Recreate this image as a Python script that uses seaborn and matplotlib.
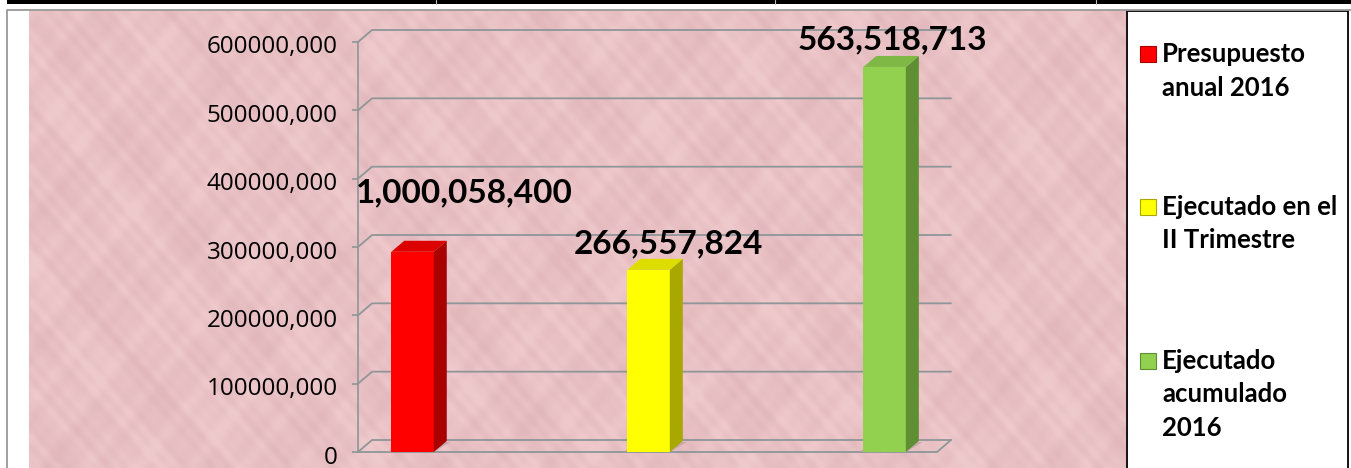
import numpy as np
import pandas as pd
import matplotlib
matplotlib.use('Agg')
import matplotlib.pyplot as plt
from matplotlib.patches import Polygon, Rectangle
from matplotlib.transforms import ScaledTranslation
import seaborn as sns

# datos
categorias = ['Presupuesto anual 2016', 'Ejecutado en el II Trimestre', 'Ejecutado acumulado 2016']
valores = [293000000, 266557824, 563518713]
etiquetas = ['1,000,058,400', '266,557,824', '563,518,713']
ticks_y = [0, 100000000, 200000000, 300000000, 400000000, 500000000, 600000000]
ticks_txt = ['0', '100000,000', '200000,000', '300000,000', '400000,000', '500000,000', '600000,000']
leyenda = [['Presupuesto', 'anual 2016'], ['Ejecutado en el', 'II Trimestre'], ['Ejecutado', 'acumulado', '2016']]

colores = ['#FF0000', '#FFFF00', '#92D050']
laterales = ['#A90000', '#A8A800', '#5F8F32']
techos = ['#DD0000', '#DDDD00', '#7FB845']

W, H = 1351, 468
sns.set_theme(style='white')
plt.rcParams['font.family'] = ['Open Sans', 'DejaVu Sans']

fig = plt.figure(figsize=(W / 100, H / 100), dpi=100, facecolor='white')

# fondo y marcos en pixeles
fondo = fig.add_axes([0, 0, 1, 1])
fondo.set_xlim(0, W)
fondo.set_ylim(H, 0)
fondo.axis('off')
xx, yy = np.meshgrid(np.arange(29, 1126, 2), np.arange(10, 468, 2))
# textura moteada del papel, solo decorativa
textura = sum(np.sin(xx * a + yy * b + c) for a, b, c in [
    (0.031, 0.047, 0.3), (-0.053, 0.029, 1.7), (0.087, -0.061, 2.9), (0.113, 0.097, 4.1),
    (-0.171, 0.143, 0.9), (0.239, 0.191, 5.3), (-0.311, 0.277, 3.3), (0.419, -0.373, 1.1)]) / 4
mapa = sns.blend_palette(['#E2B8BC', '#E9C1C5', '#EFCACC'], as_cmap=True)
fondo.imshow(textura, extent=(29, 1126, 468, 10), cmap=mapa, aspect='auto', interpolation='bicubic', vmin=-1.1, vmax=1.1)
fondo.set_xlim(0, W)
fondo.set_ylim(H, 0)
fondo.add_patch(Rectangle((7, 0), W, 3.5, color='black', lw=0))
for xs in [436, 775, 1096]:
    fondo.plot([xs, xs], [0, 3.5], color='#BBBBBB', lw=0.8)
fondo.plot([6.5, 6.5, 1351], [468, 9.5, 9.5], color='#999999', lw=1.3)
fondo.add_patch(Rectangle((1127, 11), 221, 460, facecolor='white', edgecolor='black', lw=1.3))

# ejes del grafico
ax_l, ax_r, ax_t, ax_b = 358, 937, 42, 452
ax = fig.add_axes([ax_l / W, 1 - ax_b / H, (ax_r - ax_l) / W, (ax_b - ax_t) / H])
ax.patch.set_alpha(0)

df = pd.DataFrame({'categoria': categorias, 'valor': valores})
sns.barplot(data=df, x='categoria', y='valor', hue='categoria', palette=colores, width=0.18,
            legend=False, ax=ax, saturation=1, zorder=4, linewidth=0, edgecolor='none')
ax.set_xlim(-0.231, 2.222)
ax.set_ylim(0, 600000000)
ax.set_xlabel('')
ax.set_ylabel('')
ax.set_xticks([])
ax.set_yticks(ticks_y)
ax.set_yticklabels(ticks_txt, fontsize=17.4, color='black')
ax.tick_params(axis='y', length=4.5, width=1.2, color='#8E9698', pad=10, left=True)
baja = ScaledTranslation(0, -2.5 / 100, fig.dpi_scale_trans)
for lab in ax.get_yticklabels():
    lab.set_transform(lab.get_transform() + baja)
for lado in ['top', 'right', 'bottom']:
    ax.spines[lado].set_visible(False)
ax.spines['left'].set_color('#8E9698')
ax.spines['left'].set_linewidth(1.2)

# profundidad 3D en unidades de datos
px_x = 1 / 236
px_y = 600000000 / (ax_b - ax_t)
prof_x = 14 * px_x
prof_y = 12 * px_y
fin_x = ax.get_xlim()[1]
ini_x = ax.get_xlim()[0]
gris = '#8E9698'

for t in ticks_y:
    ax.plot([ini_x, ini_x + prof_x, fin_x + prof_x], [t, t + prof_y, t + prof_y], color=gris, lw=1.3, clip_on=False, zorder=1)
ax.plot([ini_x, fin_x, fin_x + prof_x], [0, 0, prof_y], color=gris, lw=1.3, clip_on=False, zorder=1)

ancho = 0.18
for i, v in enumerate(valores):
    x0, x1 = i - ancho / 2, i + ancho / 2
    # sombra en el piso
    ax.add_patch(Polygon([[x0 - 4 * px_x, 0], [x1, 0], [x1 + 17 * px_x, 10 * px_y], [x0 + 10 * px_x, 10 * px_y]],
                         facecolor='#B9A0A0', alpha=0.7, lw=0, zorder=2, clip_on=False))
    ax.add_patch(Polygon([[x1, 0], [x1 + 13 * px_x, 11 * px_y], [x1 + 13 * px_x, v + 11 * px_y], [x1, v]],
                         facecolor=laterales[i], lw=0, zorder=5, clip_on=False))
    ax.add_patch(Polygon([[x0, v], [x1, v], [x1 + 13 * px_x, v + 11 * px_y], [x0 + 13 * px_x, v + 11 * px_y]],
                         facecolor=techos[i], lw=0, zorder=5, clip_on=False))

# etiquetas de datos
desplaza = [(52, 59), (20, 26), (8, 27)]
for i, v in enumerate(valores):
    ax.annotate(etiquetas[i], (i, v), xytext=desplaza[i], textcoords='offset pixels', ha='center', va='center',
                fontsize=24, fontweight='bold', family=['Lato', 'DejaVu Sans'], color='black', zorder=8, annotation_clip=False)

# leyenda dibujada a mano por el espaciado desigual
ley_y = [54, 207, 361]
for i, lineas in enumerate(leyenda):
    y0 = ley_y[i]
    fondo.add_patch(Rectangle((1140, y0 - 8), 16, 16, facecolor=colores[i], edgecolor=laterales[i], lw=0.8))
    for j, s in enumerate(lineas):
        fondo.text(1162, y0 + j * 33.5, s, ha='left', va='center', fontsize=18.5, fontweight='bold',
                   family=['Lato', 'DejaVu Sans'], color='black')

fig.savefig('out.png', dpi=100)
